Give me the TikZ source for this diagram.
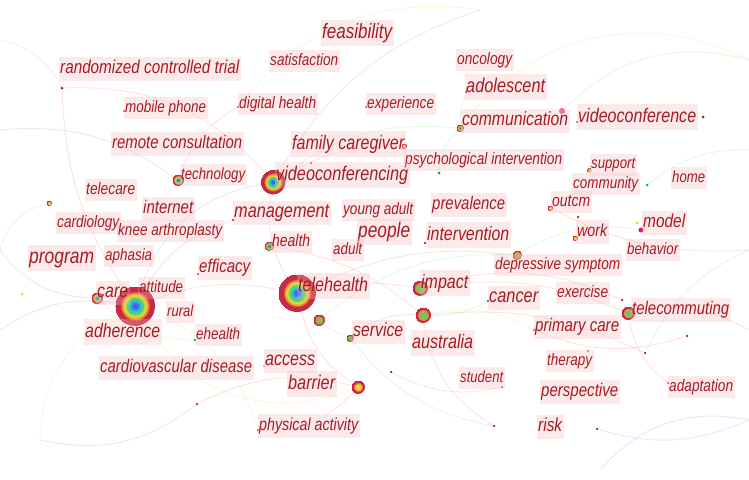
\documentclass[tikz,border=0pt]{standalone}
\usepackage{fontspec}
\usepackage{graphicx}
\newfontfamily\lab{Liberation Sans}[FakeStretch=0.82]
\definecolor{kwred}{RGB}{168,26,36}
\definecolor{kwbg}{RGB}{248,188,188}
\definecolor{cP}{RGB}{125,60,200}
\definecolor{cB}{RGB}{60,110,230}
\definecolor{cC}{RGB}{40,200,220}
\definecolor{cG}{RGB}{100,205,90}
\definecolor{cY}{RGB}{225,225,60}
\definecolor{cO}{RGB}{240,150,50}
\definecolor{cR}{RGB}{200,40,70}
\definecolor{cGg}{RGB}{120,195,90}
\definecolor{lkP}{RGB}{240,120,130}
\definecolor{lkY}{RGB}{240,220,80}
\definecolor{lkG}{RGB}{120,220,120}
\definecolor{lkB}{RGB}{120,150,230}
\definecolor{lkL}{RGB}{180,170,230}
\pgfdeclareradialshading{rainbow}{\pgfpoint{0bp}{0bp}}{color(0bp)=(cP); color(3bp)=(cB); color(7bp)=(cC); color(10bp)=(cG); color(13bp)=(cY); color(16bp)=(cO); color(18.5bp)=(cR); color(25bp)=(cR)}
\pgfdeclareradialshading{greenring}{\pgfpoint{0bp}{0bp}}{color(0bp)=(cGg); color(12bp)=(cGg); color(15bp)=(cO); color(18bp)=(cR); color(25bp)=(cR)}
\pgfdeclareradialshading{yellowring}{\pgfpoint{0bp}{0bp}}{color(0bp)=(cY); color(8bp)=(cY); color(13bp)=(cO); color(17bp)=(cR); color(25bp)=(cR)}
\tikzset{
  kw/.style={anchor=west, inner xsep=1.5pt, inner ysep=3.5pt, text=kwred, font=\lab\itshape,
    fill=kwbg, fill opacity=0.3, text opacity=1},
  kdot/.style={circle, inner sep=0pt, minimum size=#1, fill=kwred},
  rnode/.style={circle, inner sep=0pt, minimum size=#1, shade, shading=rainbow},
  gnode/.style={circle, inner sep=0pt, minimum size=#1, shade, shading=greenring},
  ynode/.style={circle, inner sep=0pt, minimum size=#1, shade, shading=yellowring},
  lk/.style={draw=#1, line width=0.9pt, draw opacity=0.2},
}
\newcommand\kwlabel[5]{\node[kw] (#1) at ({#2-1.5},#3) {\resizebox{#4pt}{!}{\vphantom{Ag}#5}};}
\begin{document}
\begin{tikzpicture}[x=1pt,y=-1pt]
\useasboundingbox (0,0) rectangle (749,479);
\fill[white] (0,0) rectangle (749,479);
% ---------- circle nodes ----------
\node[rnode=38pt] (ct) at (297,293) {};
\node[rnode=40pt] (cb) at (135,306) {};
\node[rnode=25pt] (cv) at (273,182) {};
\node[rnode=12pt] (ctech) at (178,180) {};
\node[rnode=12pt] (ccare) at (97,298) {};
\node[rnode=10pt] (chealth) at (269,246) {};
\node[gnode=16pt] (cimp) at (420,288) {};
\node[gnode=16pt] (cimp2) at (423,315) {};
\node[gnode=12pt] (cts) at (319,320) {};
\node[gnode=8pt] (cserv) at (350,338) {};
\node[ynode=14pt] (cbar) at (358,387) {};
\node[gnode=14pt] (ctcom) at (628,313) {};
\node[gnode=10pt] (cdep) at (517,255) {};
\node[rnode=8pt] (ccomm) at (460,128) {};
\node[circle, inner sep=0pt, minimum size=6pt, fill=magenta!60!pink] (cpink) at (562,111) {};
\node[ynode=6pt] (cfam) at (404,146) {};
\node[ynode=6pt] (corg) at (49,203) {};
\node[ynode=6pt] (cout) at (550,208) {};
\node[ynode=6pt] (cwork) at (575,238) {};
\node[ynode=5pt] (csup) at (589,170) {};
\node[circle, inner sep=0pt, minimum size=5pt, fill=magenta!80!purple] (cmod) at (641,230) {};
% ---------- small dots ----------
\node[kdot=3pt] (d1) at (62,88) {};
\node[kdot=3pt] (d2) at (703,117) {};
\node[kdot=2.5pt] (d3) at (578,217) {};
\node[kdot=2.5pt] (d4) at (622,300) {};
\node[kdot=2.5pt] (d5) at (687,336) {};
\node[kdot=2.5pt] (d6) at (645,353) {};
\node[kdot=2.5pt] (d7) at (391,372) {};
\node[kdot=2.5pt] (d8) at (494,426) {};
\node[kdot=2.5pt] (d9) at (597,429) {};
\node[kdot=2pt] (d10) at (502,387) {};
\node[kdot=2.5pt] (d11) at (197,404) {};
\node[kdot=2pt] (d12) at (311,163) {};
\node[kdot=2.5pt] (d13) at (466,92) {};
\node[kdot=2.5pt] (d14) at (425,243) {};
\node[kdot=2.5pt] (d15) at (233,220) {};
\node[kdot=2pt] (d16) at (124,111) {};
\node[kdot=2pt] (d17) at (238,107) {};
\node[kdot=2pt] (d18) at (366,107) {};
\node[kdot=2pt] (d19) at (577,122) {};
\node[kdot=2pt] (d20) at (198,274) {};
\node[kdot=2pt] (d21) at (534,330) {};
\node[kdot=2pt] (d22) at (668,383) {};
\node[kdot=2pt] (d23) at (258,430) {};
\node[kdot=1.5pt] (d24) at (264,366) {};
\node[circle, inner sep=0pt, minimum size=3pt, fill=yellow!70!orange] (y1) at (22,294) {};
\node[circle, inner sep=0pt, minimum size=3pt, fill=yellow!70!orange] (y2) at (637,223) {};
\node[circle, inner sep=0pt, minimum size=3pt, fill=green!70!black] (g1) at (439,173) {};
\node[circle, inner sep=0pt, minimum size=3pt, fill=green!60!teal] (g2) at (195,340) {};
\node[circle, inner sep=0pt, minimum size=3pt, fill=teal!60!cyan] (t1) at (647,185) {};
\node[circle, inner sep=0pt, minimum size=2.5pt, fill=gray] (gr1) at (588,351) {};
\node[circle, inner sep=0pt, minimum size=2.5pt, fill=green!50!black] (g3) at (488,301) {};
% ---------- edge coordinates ----------
\coordinate (e1) at (0,130);
\coordinate (e2) at (0,250);
\coordinate (e3) at (749,60);
\coordinate (e4) at (749,250);
\coordinate (e5) at (749,420);
\coordinate (e6) at (40,440);
\coordinate (e7) at (480,10);
\coordinate (e8) at (749,150);
\coordinate (e9) at (0,40);
\coordinate (e10) at (600,470);
\coordinate (e11) at (749,330);
\coordinate (e12) at (0,330);
% ---------- faint links ----------
\draw[lk=lkP] (ct) to[bend left=20] (cv);
\draw[lk=lkP] (ct) to[bend right=15] (cb);
\draw[lk=lkP] (ct) to[bend left=10] (cimp);
\draw[lk=lkP] (ct) to[bend right=20] (cbar);
\draw[lk=lkP] (ct) to[bend left=15] (cdep);
\draw[lk=lkP] (cimp) to[bend left=15] (ctcom);
\draw[lk=lkP] (cimp2) to[bend right=25] (d8);
\draw[lk=lkP] (cbar) to[bend left=25] (d23);
\draw[lk=lkP] (d11) to[bend left=20] (cbar);
\draw[lk=lkP] (d1) to[bend left=25] (cv);
\draw[lk=lkP] (d1) to[bend right=15] (cb);
\draw[lk=lkP] (cv) to[bend left=15] (cfam);
\draw[lk=lkP] (ctcom) to[bend right=20] (d22);
\draw[lk=lkP] (d5) to[bend left=20] (d21);
\draw[lk=lkP] (d7) to[bend right=20] (d10);
\draw[lk=lkP] (ctech) to[bend left=20] (d17);
\draw[lk=lkP] (cimp) to[bend left=20] (d4);
\draw[lk=lkP] (e4) to[bend left=15] (cout);
\draw[lk=lkP] (cv) to[bend left=20] (e7);
\draw[lk=lkP] (d15) to[bend right=20] (cb);
\draw[lk=lkP] (chealth) to[bend left=15] (cimp2);
\draw[lk=lkP] (ctcom) to[bend left=20] (e11);
\draw[lk=lkP] (d6) to[bend right=15] (cimp2);
\draw[lk=lkY] (cb) to[bend right=40] (cbar);
\draw[lk=lkY] (cimp2) to[bend left=20] (d21);
\draw[lk=lkY] (ccomm) to[bend left=40] (e3);
\draw[lk=lkY] (e6) to[bend left=30] (cb);
\draw[lk=lkY] (cb) to[bend left=25] (d23);
\draw[lk=lkY] (d17) to[bend left=30] (e7);
\draw[lk=lkY] (ccare) to[bend right=20] (g2);
\draw[lk=lkG] (cv) to[bend left=20] (ccomm);
\draw[lk=lkG] (ccomm) to[bend left=10] (d13);
\draw[lk=lkG] (cdep) to[bend left=20] (cmod);
\draw[lk=lkG] (g3) to[bend left=15] (cimp2);
\draw[lk=lkG] (ccomm) to[bend right=20] (g1);
\draw[lk=lkG] (d8) to[bend left=20] (cserv);
\draw[lk=lkG] (t1) to[bend left=20] (e8);
\draw[lk=lkG] (cpink) to[bend left=30] (e3);
\draw[lk=lkG] (cts) to[bend left=20] (cdep);
\draw[lk=lkB] (cb) to[bend left=30] (cv);
\draw[lk=lkB] (e1) to[bend left=20] (ctech);
\draw[lk=lkB] (e2) to[bend right=25] (ccare);
\draw[lk=lkB] (cserv) to[bend left=20] (cimp2);
\draw[lk=lkB] (e10) to[bend left=30] (e5);
\draw[lk=lkB] (e6) to[bend right=25] (d11);
\draw[lk=lkB] (d9) to[bend right=20] (e5);
\draw[lk=lkB] (e12) to[bend left=20] (cb);
\draw[lk=lkL] (e9) to[bend left=25] (d1);
\draw[lk=lkL] (corg) to[bend right=30] (e2);
\draw[lk=lkL] (ct) to[bend right=15] (cserv);
\draw[lk=lkL] (d6) to[bend left=20] (e4);
% ---------- labels ----------
\kwlabel{feasibility}{322}{33}{70}{feasibility}
\kwlabel{rct}{60}{69}{179}{randomized controlled trial}
\kwlabel{satisfaction}{270}{61}{68}{satisfaction}
\kwlabel{oncology}{457}{60}{55}{oncology}
\kwlabel{adolescent}{466}{87}{79}{adolescent}
\kwlabel{mobile}{125}{108}{81}{mobile phone}
\kwlabel{digital}{239}{104}{77}{digital health}
\kwlabel{experience}{367}{104}{67}{experience}
\kwlabel{communication}{462}{121}{106}{communication}
\kwlabel{videoconference}{578}{117}{118}{videoconference}
\kwlabel{remote}{112}{144}{130}{remote consultation}
\kwlabel{family}{292}{144}{112}{family caregiver}
\kwlabel{psych}{405}{160}{157}{psychological intervention}
\kwlabel{support}{591}{165}{44}{support}
\kwlabel{community}{573}{184}{65}{community}
\kwlabel{home}{672}{178}{33}{home}
\kwlabel{technology}{181}{175}{64}{technology}
\kwlabel{videoconferencing}{276}{175}{132}{videoconferencing}
\kwlabel{telecare}{86}{190}{49}{telecare}
\kwlabel{internet}{143}{209}{50}{internet}
\kwlabel{management}{234}{213}{95}{management}
\kwlabel{young}{343}{210}{70}{young adult}
\kwlabel{prevalence}{432}{205}{73}{prevalence}
\kwlabel{outcm}{552}{202}{38}{outcm}
\kwlabel{model}{643}{223}{42}{model}
\kwlabel{cardiology}{57}{223}{62}{cardiology}
\kwlabel{knee}{118}{231}{104}{knee arthroplasty}
\kwlabel{people}{358}{232}{52}{people}
\kwlabel{intervention}{427}{235}{82}{intervention}
\kwlabel{work}{577}{232}{30}{work}
\kwlabel{health}{272}{242}{38}{health}
\kwlabel{adult}{333}{250}{29}{adult}
\kwlabel{behavior}{627}{250}{51}{behavior}
\kwlabel{program}{29}{258}{65}{program}
\kwlabel{aphasia}{105}{256}{47}{aphasia}
\kwlabel{depressive}{495}{265}{125}{depressive symptom}
\kwlabel{efficacy}{199}{268}{51}{efficacy}
\kwlabel{care}{97}{293}{31}{care}
\kwlabel{attitude}{139}{288}{44}{attitude}
\kwlabel{telehealth}{298}{286}{70}{telehealth}
\kwlabel{impact}{421}{283}{47}{impact}
\kwlabel{cancer}{489}{298}{49}{cancer}
\kwlabel{exercise}{557}{293}{51}{exercise}
\kwlabel{telecommuting}{632}{310}{97}{telecommuting}
\kwlabel{rural}{167}{312}{26}{rural}
\kwlabel{adherence}{85}{332}{75}{adherence}
\kwlabel{ehealth}{196}{335}{44}{ehealth}
\kwlabel{service}{353}{332}{50}{service}
\kwlabel{primary}{535}{327}{84}{primary care}
\kwlabel{australia}{412}{343}{61}{australia}
\kwlabel{therapy}{547}{361}{45}{therapy}
\kwlabel{access}{265}{361}{50}{access}
\kwlabel{cardio}{100}{368}{152}{cardiovascular disease}
\kwlabel{student}{460}{378}{43}{student}
\kwlabel{barrier}{288}{384}{47}{barrier}
\kwlabel{perspective}{541}{392}{77}{perspective}
\kwlabel{adaptation}{669}{387}{64}{adaptation}
\kwlabel{risk}{538}{427}{24}{risk}
\kwlabel{physical}{259}{426}{99}{physical activity}
\end{tikzpicture}
\end{document}
